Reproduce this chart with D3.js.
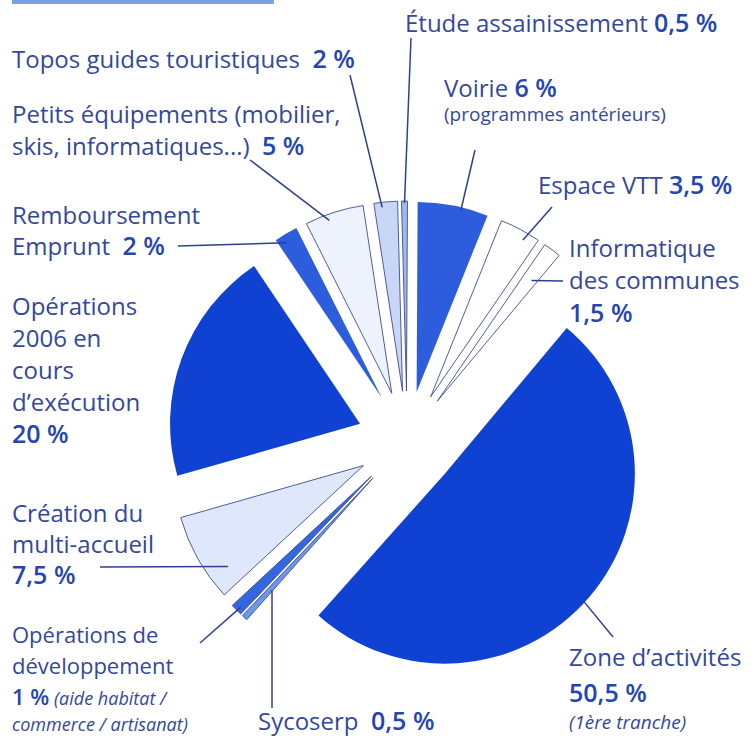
<!DOCTYPE html>
<html>
<head>
<meta charset="utf-8">
<script src="https://cdn.jsdelivr.net/npm/d3@7"></script>
<style>
  body { margin: 0; background: #fff; }
  svg { display: block; }
  text { font-family: "Open Sans", "Liberation Sans", sans-serif; }
</style>
</head>
<body>
<svg class="chart"></svg>
<script>
(function () {

  // slices, clockwise from the top
  var categories = ["Étude assainissement", "Voirie", "Espace VTT", "Informatique des communes",
    "Zone d’activités", "Sycoserp", "Opérations de développement", "Création du multi-accueil",
    "Opérations 2006 en cours d’exécution", "Remboursement Emprunt", "Petits équipements", "Topos guides touristiques"];
  var values = [0.5, 6, 3.5, 1.5, 50.5, 0.5, 1, 7.5, 20, 2, 5, 2];

  // label lines ("%" = the value of the slice, "~" = small note text)
  var labelLines = [
    [["Étude assainissement ", "%"]],
    [["Voirie ", "%"], ["~(programmes antérieurs)"]],
    [["Espace VTT ", "%"]],
    [["Informatique"], ["des communes"], ["%"]],
    [["Zone d’activités"], ["%"], ["~(1ère tranche)"]],
    [["Sycoserp  ", "%"]],
    [["Opérations de"], ["développement"], ["%", "~ (aide habitat /"], ["~commerce / artisanat)"]],
    [["Création du"], ["multi-accueil"], ["%"]],
    [["Opérations"], ["2006 en"], ["cours"], ["d’exécution"], ["%"]],
    [["Remboursement"], ["Emprunt  ", "%"]],
    [["Petits équipements (mobilier,"], ["skis, informatiques...)  ", "%"]],
    [["Topos guides touristiques  ", "%"]]
  ];

  var width = 752, height = 737;
  var cx = 407, cy = 441, radius = 190, explode = 50;

  var colors = d3.scaleOrdinal()
    .domain(categories)
    .range(["#9fb8ef", "#2d5ddc", "#ffffff", "#ffffff", "#0f42d2", "#6d95ea",
            "#3566df", "#dfe7fa", "#0f42d2", "#2d5ddc", "#eef2fc", "#c9d7f6"]);
  var outlined = ["#9fb8ef", "#ffffff", "#6d95ea", "#3566df", "#dfe7fa", "#eef2fc", "#c9d7f6"];

  // where the labels sit, and where the leader lines go
  // lead: [x, y] near the text, t: position inside the slice (0..1), r: distance from apex
  var layout = [
    {x: 405, ys: [32], lead: [411, 38], t: 0.5, r: 188},
    {x: 444, ys: [97, 121], lead: [475, 150], t: 0.62, r: 187},
    {x: 538, ys: [194], lead: [552, 207], t: 0.68, r: 182},
    {x: 569, ys: [257, 289, 322], lead: [563, 281], t: 0.65, r: 153},
    {x: 569, ys: [666, 702, 729], lead: [613, 637], t: 0.51, r: 189},
    {x: 258, ys: [730], lead: [272, 708], t: 0.2, r: 151},
    {x: 12, ys: [643, 674, 705, 731], lead: [200, 643], t: 0.4, r: 185, fs: [22, 22, 18]},
    {x: 12, ys: [522, 553, 584], lead: [100, 567], t: 0.23, r: 169},
    {x: 12, ys: [315, 347, 379, 411, 443], lead: null},
    {x: 12, ys: [224, 255], lead: [178, 246], t: 0.32, r: 182},
    {x: 12, ys: [123, 155], lead: [250, 160], t: 0.38, r: 184},
    {x: 12, ys: [68], lead: [350, 75], t: 0.33, r: 185}
  ];
  var defaultSizes = [24, 25, 19]; // text, value, note

  var svg = d3.select(".chart")
    .attr("width", width)
    .attr("height", height);

  // bit of the header band cut at the top
  svg.append("rect")
    .attr("x", 12).attr("y", 0)
    .attr("width", 262).attr("height", 4)
    .attr("fill", "#7aa0e6");

  var start = -1.5 * Math.PI / 180;
  var pie = d3.pie().sort(null).value(function (d) { return d; })
    .startAngle(start).endAngle(start + 2 * Math.PI);
  var arcs = pie(values);

  var arc = d3.arc().innerRadius(0).outerRadius(radius);

  function apex(d) {
    var mid = (d.startAngle + d.endAngle) / 2;
    return [cx + explode * Math.sin(mid), cy - explode * Math.cos(mid)];
  }

  svg.selectAll("path.slice")
    .data(arcs)
    .enter().append("path")
    .attr("class", "slice")
    .attr("transform", function (d) {
      var p = apex(d);
      return "translate(" + p[0] + "," + p[1] + ")";
    })
    .attr("d", arc)
    .attr("fill", function (d, i) { return colors(categories[i]); })
    .attr("stroke", function (d, i) {
      return outlined.indexOf(colors(categories[i])) >= 0 ? "#3d4d8e" : "none";
    })
    .attr("stroke-width", 0.9)
    .attr("stroke-linejoin", "round");

  // leader lines
  arcs.forEach(function (d, i) {
    var L = layout[i];
    if (!L.lead) return;
    var a = d.startAngle + L.t * (d.endAngle - d.startAngle);
    var p = apex(d);
    svg.append("line")
      .attr("x1", L.lead[0]).attr("y1", L.lead[1])
      .attr("x2", p[0] + L.r * Math.sin(a))
      .attr("y2", p[1] - L.r * Math.cos(a))
      .attr("stroke", "#2e4190")
      .attr("stroke-width", 1.5);
  });

  function pctText(v) {
    return String(v).replace(".", ",") + " %";
  }

  // labels
  labelLines.forEach(function (lines, i) {
    var L = layout[i];
    var fs = L.fs || defaultSizes;
    var txt = svg.append("text").style("white-space", "pre");
    lines.forEach(function (spans, j) {
      spans.forEach(function (s, k) {
        var ts = txt.append("tspan");
        if (k === 0) ts.attr("x", L.x).attr("y", L.ys[j]);
        if (s === "%") {
          ts.text(pctText(values[i]))
            .attr("fill", "#2446b0")
            .attr("font-size", fs[1])
            .attr("font-weight", 600);
        } else if (s.charAt(0) === "~") {
          ts.text(s.slice(1))
            .attr("fill", "#34489a")
            .attr("font-size", fs[2])
            .attr("font-style", i === 1 ? "normal" : "italic");
        } else {
          ts.text(s)
            .attr("fill", "#34489a")
            .attr("font-size", fs[0]);
        }
      });
    });
  });

})();
</script>
</body>
</html>
